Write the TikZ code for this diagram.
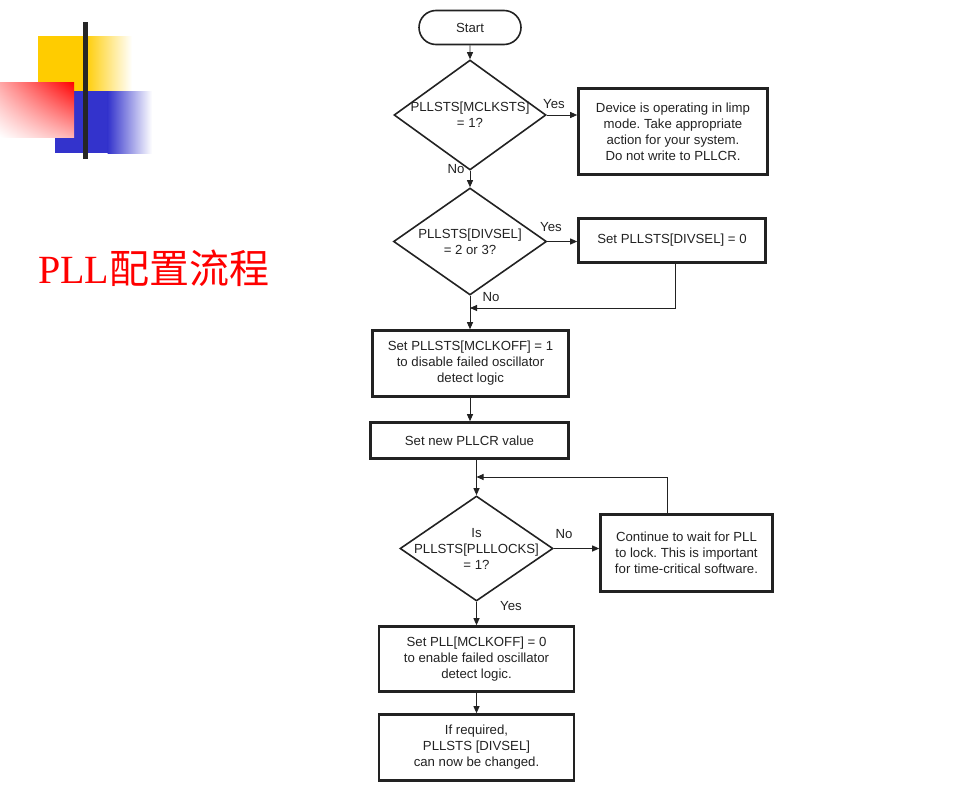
\documentclass[tikz,border=0pt]{standalone}
\usepackage{fontspec}
\setmainfont{Liberation Sans}
\newfontfamily\serifT{Liberation Serif}
\newfontfamily\cjk{Noto Sans CJK SC}
\usetikzlibrary{arrows.meta,shapes.geometric,shapes.misc,shadings}
\definecolor{yel}{HTML}{FFCC00}
\definecolor{blu}{HTML}{3333CC}
\definecolor{ink}{HTML}{222222}
\frenchspacing
\begin{document}
\begin{tikzpicture}[x=1pt,y=-1pt,
  txt/.style={text=ink, font=\fontsize{13.2}{16}\selectfont, align=center},
  box/.style={draw=ink, line width=2.6pt, txt, inner sep=0pt},
  dia/.style={draw=ink, diamond, line width=1.6pt, inner sep=0pt},
  startbox/.style={draw=ink, rounded rectangle, line width=1.6pt, txt, inner sep=0pt, minimum width=102pt, minimum height=34pt},
  conn/.style={draw=ink, line width=0.9pt, -{Triangle[length=7pt,width=6pt]}},
  lbl/.style={txt}]
\useasboundingbox (0,0) rectangle (971,811);
% decoration
\fill[yel] (38,36) rectangle (85,91);
\shade[left color=yel, right color=white] (84.5,36) rectangle (132,91);
\fill[blu] (55,91) rectangle (108,153);
\shade[left color=blu, right color=white] (107.5,91) rectangle (152,153);
\shade[upper right=red, upper left=red!35, lower left=white, lower right=red!30] (0,82) rectangle (74,137);
\fill[black!85] (83,22) rectangle (88,159);
% title
\node[anchor=base west, inner sep=0pt, text=red] (title) at (38,283) {\fontsize{40}{40}\selectfont\serifT PLL\cjk 配置流程};
% flowchart nodes
\node[startbox] (start) at (470,27.5) {Start};
\node[dia, minimum width=152pt, minimum height=110pt] (d1) at (470,115) {};
\node[txt] (d1t) at (d1) {PLLSTS[MCLKSTS]\\= 1?};
\node[box, minimum width=189pt, minimum height=86pt] (b1) at (673,131.5) {Device is operating in limp\\mode. Take appropriate\\action for your system.\\Do not write to PLLCR.};
\node[dia, minimum width=153pt, minimum height=107pt] (d2) at (470,241.5) {};
\node[txt] (d2t) at (d2) {PLLSTS[DIVSEL]\\= 2 or 3?};
\node[box, minimum width=187pt, minimum height=44pt] (b2) at (672,240.5) {Set PLLSTS[DIVSEL] = 0};
\node[box, minimum width=196pt, minimum height=66pt] (b3) at (470.5,363.5) {Set PLLSTS[MCLKOFF] = 1\\to disable failed oscillator\\detect logic};
\node[box, minimum width=198pt, minimum height=36pt] (b4) at (469.5,440.5) {Set new PLLCR value};
\node[dia, minimum width=153pt, minimum height=105pt] (d3) at (476.5,548.5) {};
\node[txt] (d3t) at (d3) {Is\\PLLSTS[PLLLOCKS]\\= 1?};
\node[box, minimum width=172pt, minimum height=77pt] (b5) at (686.5,553) {Continue to wait for PLL\\to lock. This is important\\for time-critical software.};
\node[box, minimum width=195pt, minimum height=65pt] (b6) at (476.5,659) {Set PLL[MCLKOFF] = 0\\to enable failed oscillator\\detect logic.};
\node[box, minimum width=195pt, minimum height=66pt] (b7) at (476.5,747.5) {If required,\\PLLSTS [DIVSEL]\\can now be changed.};
% labels
\node[lbl] (y1) at (554,104) {Yes};
\node[lbl] (n1) at (456,169) {No};
\node[lbl] (y2) at (551,227) {Yes};
\node[lbl] (n2) at (491,297) {No};
\node[lbl] (n3) at (564,534) {No};
\node[lbl] (y3) at (511,606) {Yes};
% junctions
\coordinate (j1) at (470,308);
\coordinate (j2) at (476.5,477);
% connectors
\draw[conn] (start) -- (d1);
\draw[conn] (d1.east) -- (d1.east -| b1.west);
\draw[conn] (d1.south) -- (d2.north);
\draw[conn] (d2.east) -- (d2.east -| b2.west);
\draw[conn] ([xshift=3pt]b2.south) |- (j1);
\draw[conn] (d2.south) -- (d2.south |- b3.north);
\draw[conn] (b3.south -| d2.south) -- (d2.south |- b4.north);
\draw[conn] (b4.south -| d3.north) -- (d3.north);
\draw[conn] ([xshift=-19.5pt]b5.north) |- (j2);
\draw[conn] (d3.east) -- (d3.east -| b5.west);
\draw[conn] (d3.south) -- (b6.north);
\draw[conn] (b6.south) -- (b7.north);
\end{tikzpicture}
\end{document}
